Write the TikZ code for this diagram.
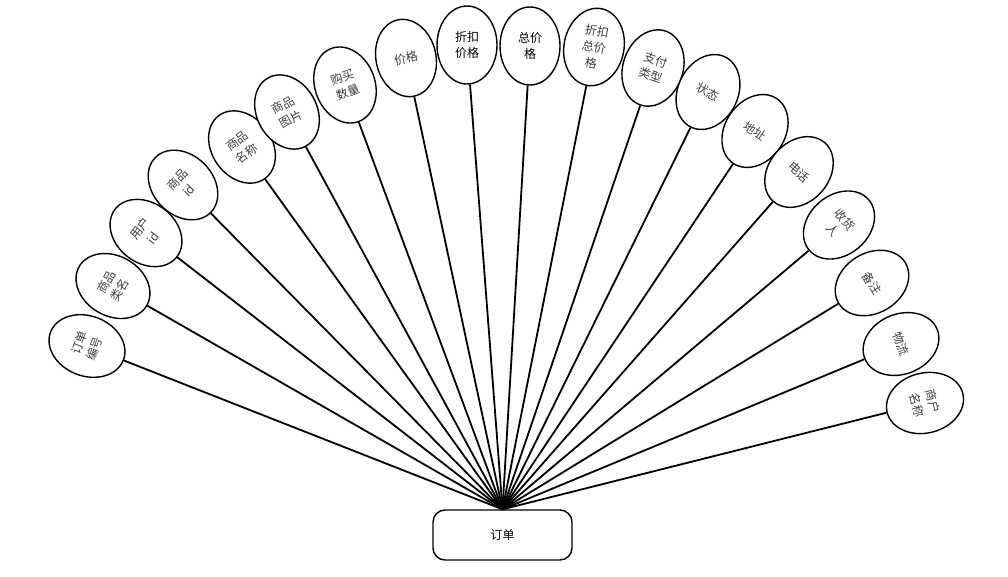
\documentclass[tikz,border=0pt]{standalone}
\usepackage{fontspec}
\setmainfont{Noto Sans CJK SC}
\usetikzlibrary{shapes.geometric}

\begin{document}
\begin{tikzpicture}[
    x=1pt, y=-1pt,
    line width=1.8pt,
    attr/.style={draw, ellipse, line width=1.4pt, minimum width=60pt, minimum height=78pt, inner sep=0pt, fill=white, align=center, font=\fontsize{12}{16}\selectfont, text=black!75},
    entity/.style={draw, rectangle, line width=1.4pt, rounded corners=12pt, minimum width=139pt, minimum height=50pt, fill=white, font=\fontsize{12}{16}\selectfont}
  ]
  \useasboundingbox (0,0) rectangle (1008,576);

  % entity
  \node[entity] (order) at (502.5,535) {订单};

  % attributes, left to right
  \node[attr, rotate=69] (orderno) at (87,346) {订单\\编号};
  \node[attr, rotate=60] (catname) at (113,286) {商品\\类名};
  \node[attr, rotate=52.5] (userid) at (146,233) {用户\\id};
  \node[attr, rotate=45] (goodsid) at (183,185) {商品\\id};
  \node[attr, rotate=36] (goodsname) at (242,147) {商品\\名称};
  \node[attr, rotate=29] (goodspic) at (287,112) {商品\\图片};
  \node[attr, rotate=20.5] (amount) at (345,85) {购买\\数量};
  \node[attr, rotate=12.5] (price) at (406,58) {价格};
  \node[attr, text=black] (discprice) at (467,45) {折扣\\价格};
  \node[attr, text=black] (total) at (530,46) {总价\\格};
  \node[attr, rotate=-11] (disctotal) at (594,47) {折扣\\总价\\格};
  \node[attr, rotate=-19] (paytype) at (653,68) {支付\\类型};
  \node[attr, rotate=-26] (state) at (708,92) {状态};
  \node[attr, rotate=-34] (address) at (755,131) {地址};
  \node[attr, rotate=-41.5] (phone) at (799,172) {电话};
  \node[attr, rotate=-50] (receiver) at (839,225) {收货\\人};
  \node[attr, rotate=-58.5] (remark) at (872,283) {备注};
  \node[attr, rotate=-68] (logistics) at (901,344) {物流};
  \node[attr, rotate=-76] (shopname) at (925,403) {商户\\名称};

  % connectors
  \draw (order.north) -- (orderno);
  \draw (order.north) -- (catname);
  \draw (order.north) -- (userid);
  \draw (order.north) -- (goodsid);
  \draw (order.north) -- (goodsname);
  \draw (order.north) -- (goodspic);
  \draw (order.north) -- (amount);
  \draw (order.north) -- (price);
  \draw (order.north) -- (discprice);
  \draw (order.north) -- (total);
  \draw (order.north) -- (disctotal);
  \draw (order.north) -- (paytype);
  \draw (order.north) -- (state);
  \draw (order.north) -- (address);
  \draw (order.north) -- (phone);
  \draw (order.north) -- (receiver);
  \draw (order.north) -- (remark);
  \draw (order.north) -- (logistics);
  \draw (order.north) -- (shopname);
\end{tikzpicture}
\end{document}
